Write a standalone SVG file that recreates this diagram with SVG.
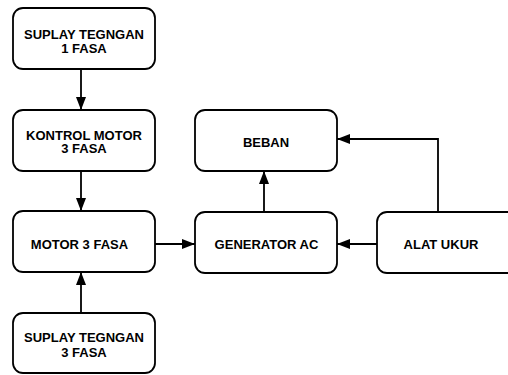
<svg xmlns="http://www.w3.org/2000/svg" width="508" height="375" viewBox="0 0 508 375">
<style>
.box{fill:#fff;stroke:#000;stroke-width:1.8}
.t{font-family:"Liberation Sans",Arial,sans-serif;font-weight:bold;font-size:13px;fill:#000;text-anchor:middle}
.c{stroke:#000;stroke-width:1.8;fill:none}
</style>
<defs>
<marker id="ah" viewBox="0 0 13 10" refX="13" refY="5" markerWidth="13" markerHeight="10" markerUnits="userSpaceOnUse" orient="auto">
<path d="M0,0 L13,5 L0,10 Z" fill="#000"/>
</marker>
</defs>
<rect width="508" height="375" fill="#fff"/>
<g id="connectors">
<line class="c" x1="81" y1="69" x2="81" y2="110" marker-end="url(#ah)"/>
<line class="c" x1="81" y1="171" x2="81" y2="211" marker-end="url(#ah)"/>
<line class="c" x1="81" y1="313" x2="81" y2="272" marker-end="url(#ah)"/>
<line class="c" x1="155" y1="244" x2="195" y2="244" marker-end="url(#ah)"/>
<line class="c" x1="377" y1="244" x2="337" y2="244" marker-end="url(#ah)"/>
<line class="c" x1="264" y1="212" x2="264" y2="171" marker-end="url(#ah)"/>
<polyline class="c" points="438,212 438,139 337,139" marker-end="url(#ah)"/>
</g>
<g id="suplay1">
<rect class="box" x="13" y="8" width="142" height="61" rx="10"/>
<text class="t" x="84" y="39">SUPLAY TEGNGAN</text>
<text class="t" x="84" y="53">1 FASA</text>
</g>
<g id="kontrol">
<rect class="box" x="13" y="110" width="142" height="61" rx="10"/>
<text class="t" x="84" y="139.5">KONTROL MOTOR</text>
<text class="t" x="84" y="153">3 FASA</text>
</g>
<g id="motor">
<rect class="box" x="13" y="211" width="142" height="61" rx="10"/>
<text class="t" x="79.5" y="249">MOTOR 3 FASA</text>
</g>
<g id="suplay3">
<rect class="box" x="13" y="313" width="142" height="60" rx="10"/>
<text class="t" x="84" y="342">SUPLAY TEGNGAN</text>
<text class="t" x="84" y="356.5">3 FASA</text>
</g>
<g id="beban">
<rect class="box" x="195" y="110" width="142" height="61" rx="10"/>
<text class="t" x="266" y="147">BEBAN</text>
</g>
<g id="generator">
<rect class="box" x="195" y="212" width="142" height="61" rx="10"/>
<text class="t" x="266.5" y="248.5">GENERATOR AC</text>
</g>
<g id="alatukur">
<rect class="box" x="377" y="212" width="142" height="61" rx="10"/>
<text class="t" x="441" y="248.5">ALAT UKUR</text>
</g>
</svg>
